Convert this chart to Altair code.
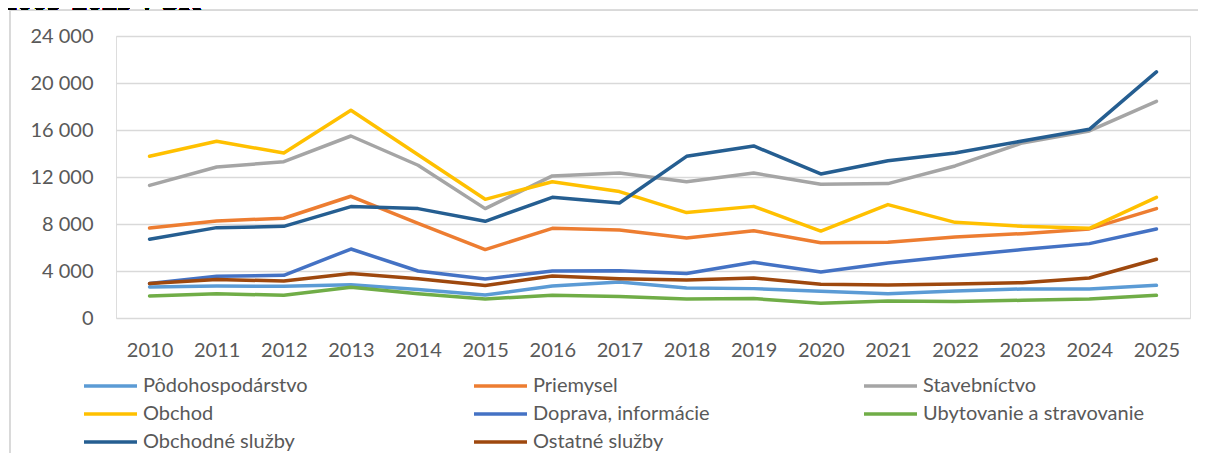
import altair as alt
import pandas as pd

years = [str(y) for y in range(2010, 2026)]
series_names = [
    "Pôdohospodárstvo", "Priemysel", "Stavebníctvo", "Obchod",
    "Doprava, informácie", "Ubytovanie a stravovanie", "Obchodné služby", "Ostatné služby",
]
colors = ["#5B9BD5", "#ED7D31", "#A5A5A5", "#FFC000", "#4472C4", "#70AD47", "#255E91", "#9E480E"]

podohospodarstvo = [2640, 2720, 2700, 2840, 2420, 1960, 2720, 3060, 2550, 2500, 2270, 2070, 2300, 2470, 2470, 2780]
priemysel = [7660, 8260, 8490, 10360, 8050, 5820, 7630, 7490, 6810, 7430, 6410, 6440, 6900, 7180, 7580, 9310]
stavebnictvo = [11290, 12850, 13300, 15490, 13000, 9310, 12090, 12340, 11600, 12340, 11380, 11440, 12940, 14900, 15920, 18440]
obchod = [13760, 15040, 14040, 17680, 13900, 10100, 11600, 10760, 8970, 9500, 7400, 9650, 8140, 7800, 7630, 10270]
doprava = [2930, 3550, 3630, 5870, 4000, 3320, 4000, 4030, 3780, 4740, 3910, 4680, 5280, 5820, 6330, 7580]
ubytovanie = [1870, 2070, 1930, 2610, 2070, 1620, 1930, 1820, 1620, 1650, 1250, 1450, 1400, 1510, 1620, 1930]
obchodne_sluzby = [6700, 7690, 7800, 9480, 9310, 8230, 10270, 9790, 13760, 14640, 12260, 13390, 14040, 15060, 16060, 20940]
ostatne_sluzby = [2930, 3270, 3150, 3780, 3350, 2760, 3570, 3350, 3230, 3400, 2870, 2810, 2890, 3010, 3400, 5000]

y_ticks = [0, 4000, 8000, 12000, 16000, 20000, 24000]
title_text = "2009-2025 v SR"

all_values = [podohospodarstvo, priemysel, stavebnictvo, obchod, doprava, ubytovanie, obchodne_sluzby, ostatne_sluzby]
rows = []
for i, (name, vals) in enumerate(zip(series_names, all_values)):
    for y, v in zip(years, vals):
        rows.append({"rok": y, "sektor": name, "hodnota": v, "poradie": i})
df = pd.DataFrame(rows)

FONT = "Lato"
GRID = "#d9d9d9"
LABEL = "#595959"

lines = alt.Chart(df).mark_line(strokeWidth=3.5, strokeCap="round", strokeJoin="round").encode(
    x=alt.X("rok:O", title=None, sort=years,
            scale=alt.Scale(type="point", padding=0.5),
            axis=alt.Axis(labelAngle=0, domain=False, ticks=False, grid=False,
                          labelPadding=22, labelFontSize=20, labelFont=FONT, labelColor=LABEL)),
    y=alt.Y("hodnota:Q", title=None,
            scale=alt.Scale(domain=[0, 24000], nice=False),
            axis=alt.Axis(values=y_ticks, domain=False, ticks=False, grid=True,
                          gridColor=GRID, gridWidth=1.5,
                          labelExpr="replace(format(datum.value, ','), ',', ' ')",
                          labelPadding=23, labelFontSize=20, labelFont=FONT, labelColor=LABEL)),
    color=alt.Color("sektor:N", sort=series_names,
                    scale=alt.Scale(domain=series_names, range=colors),
                    legend=alt.Legend(
                        title=None, orient="none", legendX=-34, legendY=336,
                        direction="horizontal", columns=3, gridAlign="all",
                        columnPadding=107, rowPadding=0, padding=0, clipHeight=28,
                        symbolType="stroke", symbolSize=2809, symbolStrokeWidth=3.5,
                        labelOffset=4, labelFontSize=20, labelFont=FONT, labelColor=LABEL,
                        labelLimit=400)),
    order=alt.Order("poradie:Q"),
    detail="sektor:N",
)

frame_v = alt.Chart(df).mark_rule(color=GRID, strokeWidth=1).encode(
    x=alt.value(-106), y=alt.value(-25.7), y2=alt.value(500))
frame_h = alt.Chart(df).mark_rule(color=GRID, strokeWidth=1).encode(
    x=alt.value(-106), x2=alt.value(1200), y=alt.value(-25.7))
title = alt.Chart(df).mark_text(font="Liberation Serif", fontWeight="bold", fontSize=30,
                                align="left", baseline="alphabetic", color="#000000").encode(
    x=alt.value(-114), y=alt.value(-26), text=alt.value(title_text))

chart = alt.layer(frame_v, frame_h, title, lines).properties(
    width=1074, height=282,
    autosize=alt.AutoSizeParams(type="none"),
    padding={"left": 108, "top": 28, "right": 8, "bottom": 135},
).configure_view(stroke=None).configure(background="#ffffff")

chart.save("out.html", embed_options={"renderer": "svg", "actions": False})
